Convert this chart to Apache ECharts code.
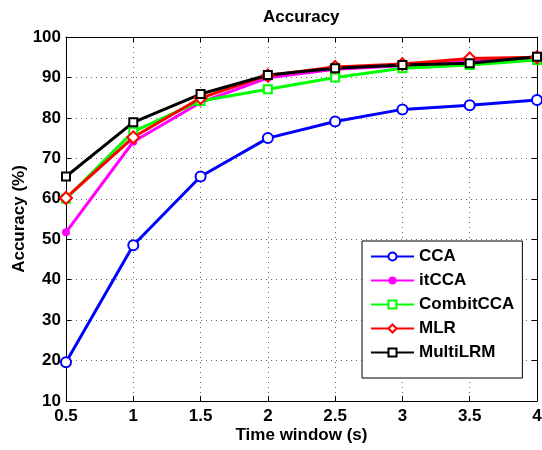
<!DOCTYPE html>
<html>
<head>
<meta charset="utf-8">
<script src="https://cdn.jsdelivr.net/npm/echarts@6/dist/echarts.min.js"></script>
<style>
  html, body { margin: 0; padding: 0; background: #fff; }
  #chart { width: 542px; height: 450px; }
</style>
</head>
<body>
<div id="chart"></div>
<script>
'use strict';

// time window (s) on x axis
var timeWindows = [0.5, 1, 1.5, 2, 2.5, 3, 3.5, 4];

// accuracy (%) per method
var ccaAcc      = [19.6, 48.5, 65.5, 75.0, 79.1, 82.1, 83.1, 84.4];
var itccaAcc    = [51.7, 74.1, 83.8, 89.9, 92.0, 92.9, 94.0, 94.8];
var combitAcc   = [60.0, 76.6, 84.2, 87.1, 90.0, 92.3, 93.1, 94.3];
var mlrAcc      = [60.2, 75.2, 84.9, 90.5, 92.6, 93.3, 94.7, 95.0];
var multiAcc    = [65.5, 78.9, 85.9, 90.6, 92.3, 93.1, 93.5, 95.1];

var FONT = "'Liberation Sans', Arial, sans-serif";

function pairs(ys) {
  return timeWindows.map(function (x, i) { return [x, ys[i]]; });
}

function makeSeries(name, data, color, symbol, size) {
  return {
    name: name,
    type: 'line',
    data: pairs(data),
    symbol: symbol,
    symbolSize: size,
    lineStyle: { color: color, width: 3 },
    itemStyle: { color: color, borderWidth: 2 },
    emphasis: { disabled: true },
    animation: false
  };
}

var tickLabel = { color: '#000', fontFamily: FONT, fontWeight: 'bold', fontSize: 17 };
var gridLine = { show: true, lineStyle: { color: '#666', type: [1, 4], width: 1 } };
var axisLine = { show: true, onZero: false, lineStyle: { color: '#000', width: 1 } };
var innerTick = { show: true, inside: true, length: 5, lineStyle: { color: '#000' } };

var chart = echarts.init(document.getElementById('chart'));
chart.setOption({
  backgroundColor: '#fff',
  animation: false,
  title: {
    text: 'Accuracy',
    left: 263,
    top: 9,
    padding: 0,
    textStyle: { fontFamily: FONT, fontWeight: 'bold', fontSize: 17, color: '#000' }
  },
  grid: { left: 66, right: 5, top: 37, bottom: 49, containLabel: false, outerBoundsMode: 'none' },
  xAxis: [{
    type: 'value',
    position: 'bottom',
    min: 0.5, max: 4, interval: 0.5,
    name: 'Time window (s)',
    nameLocation: 'middle',
    nameGap: 26,
    nameMoveOverlap: false,
    nameTextStyle: { fontFamily: FONT, fontWeight: 'bold', fontSize: 17, color: '#000' },
    axisLine: axisLine,
    axisTick: innerTick,
    axisLabel: Object.assign({ margin: 7 }, tickLabel),
    splitLine: gridLine
  }, {
    type: 'value',
    position: 'top',
    min: 0.5, max: 4, interval: 0.5,
    axisLine: axisLine,
    axisTick: innerTick,
    axisLabel: { show: false },
    splitLine: { show: false }
  }],
  yAxis: [{
    type: 'value',
    position: 'left',
    min: 10, max: 100, interval: 10,
    name: 'Accuracy (%)',
    nameLocation: 'middle',
    nameGap: 38,
    nameMoveOverlap: false,
    nameTextStyle: { fontFamily: FONT, fontWeight: 'bold', fontSize: 17, color: '#000' },
    axisLine: axisLine,
    axisTick: innerTick,
    axisLabel: Object.assign({ margin: 5 }, tickLabel),
    splitLine: gridLine
  }, {
    type: 'value',
    position: 'right',
    min: 10, max: 100, interval: 10,
    axisLine: axisLine,
    axisTick: innerTick,
    axisLabel: { show: false },
    splitLine: { show: false }
  }],
  legend: {
    orient: 'vertical',
    left: 362,
    top: 241,
    padding: [7, 8, 17, 8],
    backgroundColor: '#fff',
    borderColor: '#000',
    borderWidth: 1,
    itemWidth: 43,
    itemHeight: 10,
    itemGap: 7,
    selectedMode: false,
    textStyle: { fontFamily: FONT, fontWeight: 'bold', fontSize: 17, color: '#000', lineHeight: 16 },
    data: ['CCA', 'itCCA', 'CombitCCA', 'MLR', 'MultiLRM']
  },
  series: [
    makeSeries('CCA', ccaAcc, '#0000ff', 'emptyCircle', 10),
    makeSeries('itCCA', itccaAcc, '#ff00ff', 'circle', 8),
    makeSeries('CombitCCA', combitAcc, '#00ff00', 'emptyRect', 8),
    makeSeries('MLR', mlrAcc, '#ff0000', 'emptyDiamond', 12),
    makeSeries('MultiLRM', multiAcc, '#000000', 'emptyRect', 8)
  ]
});
</script>
</body>
</html>
